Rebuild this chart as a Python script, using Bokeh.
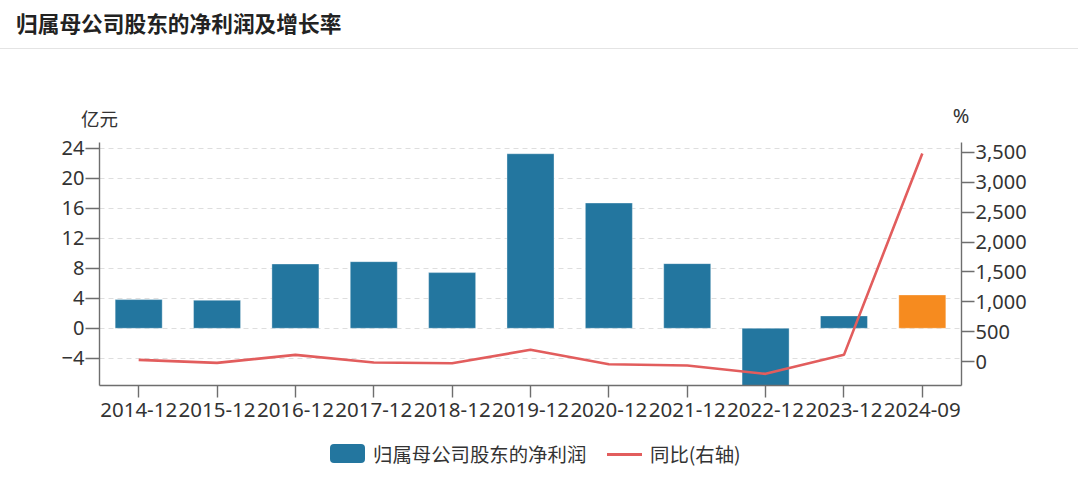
from bokeh.plotting import figure
from bokeh.models import (ColumnDataSource, FactorRange, Range1d, LinearAxis, FixedTicker,
                          NumeralTickFormatter, Div)
from bokeh.layouts import column
from bokeh.embed import file_html
from bokeh.resources import INLINE

# ---------------- data ----------------
categories = ["2014-12", "2015-12", "2016-12", "2017-12", "2018-12", "2019-12",
              "2020-12", "2021-12", "2022-12", "2023-12", "2024-09"]
net_profit = [3.83, 3.74, 8.58, 8.89, 7.43, 23.3, 16.72, 8.63, -7.64, 1.65, 4.45]   # 亿元
yoy_pct = [28, -22, 112, -17, -28, 196, -45, -67, -206, 112, 3483]                  # %
left_ticks = [-4, 0, 4, 8, 12, 16, 20, 24]
right_ticks = [0, 500, 1000, 1500, 2000, 2500, 3000, 3500]
title_text = "归属母公司股东的净利润及增长率"
bar_name = "归属母公司股东的净利润"
line_name = "同比(右轴)"
left_unit = "亿元"
right_unit = "%"

# ---------------- style ----------------
BLUE = "#23769f"
ORANGE = "#f68b1f"
RED = "#e25d5d"
AXIS = "#6e6e6e"
TXT = "#333333"
LATIN = "Noto Sans"
CJK = "Noto Sans CJK SC"
W = 1080

colors = [ORANGE if c.endswith("-09") else BLUE for c in categories]
src = ColumnDataSource(dict(x=categories, y=net_profit, c=colors, pct=yoy_pct))

p = figure(width=W, height=294, x_range=FactorRange(factors=categories, range_padding=0),
           y_range=Range1d(-7.64, 24.8), output_backend="svg", toolbar_location=None,
           min_border_left=99, min_border_right=119, min_border_top=11, min_border_bottom=40,
           margin=(0, 0, 0, 0))
p.outline_line_color = None
p.xgrid.grid_line_color = None
p.ygrid.ticker = FixedTicker(ticks=left_ticks)
p.ygrid.grid_line_color = "#dedede"
p.ygrid.grid_line_dash = "5 4"
p.ygrid.grid_line_width = 1.2

p.extra_y_ranges = {"pct": Range1d(-401, 3667)}

bars = p.vbar(x="x", top="y", bottom=0, width=0.6, source=src, fill_color="c",
              line_color="#ffffff", line_alpha=0.35, line_width=1)
line = p.line(x="x", y="pct", source=src, y_range_name="pct", line_color=RED, line_width=2.6)

ya = p.yaxis[0]
ya.ticker = FixedTicker(ticks=left_ticks)
xa = p.xaxis[0]

rax = LinearAxis(y_range_name="pct", ticker=FixedTicker(ticks=right_ticks),
                 formatter=NumeralTickFormatter(format="0,0"))
p.add_layout(rax, "right")

for ax in (ya, xa, rax):
    ax.axis_line_color = AXIS
    ax.axis_line_width = 1.4
    ax.major_tick_line_color = AXIS
    ax.major_tick_line_width = 1.4
    ax.major_tick_in = 0
    ax.minor_tick_line_color = None
    ax.major_label_text_font = LATIN
    ax.major_label_text_font_size = "20px"
    ax.major_label_text_color = TXT
ya.major_tick_out = 14
ya.major_label_standoff = 1
rax.major_tick_out = 13
rax.major_label_standoff = 1
xa.major_tick_out = 12
xa.major_label_standoff = 5
xa.major_label_text_font_size = "20.5px"
xa.major_label_orientation = "horizontal"

# ---------------- header (title, separator, axis units) ----------------
header_html = (
    '<div style="position:relative;width:%dpx;height:131px;font-family:\'Noto Sans CJK SC\';color:#333;">'
    '<div style="position:absolute;left:16px;top:8px;height:30px;line-height:30px;font-size:21.7px;'
    'font-weight:bold;color:#222;white-space:nowrap;">%s</div>'
    '<div style="position:absolute;left:0;top:48px;width:1078px;height:1px;background:#e4e4e4;"></div>'
    '<span style="position:absolute;left:99.4px;top:118px;transform:translate(-50%%,-50%%);'
    'font-size:18.5px;line-height:1;white-space:nowrap;">%s</span>'
    '<span style="position:absolute;left:961px;top:116px;transform:translate(-50%%,-50%%);'
    'font-family:\'Noto Sans\';font-size:20px;line-height:1;white-space:nowrap;">%s</span>'
    '</div>'
) % (W, title_text, left_unit, right_unit)
header = Div(text=header_html, width=W, height=131, margin=(0, 0, 0, 0))

# ---------------- legend ----------------
legend_html = (
    '<div style="position:relative;width:%dpx;height:76px;font-family:\'Noto Sans CJK SC\';'
    'font-size:19.4px;color:#333;">'
    '<div style="position:absolute;left:330px;top:19px;width:35px;height:19px;border-radius:4px;'
    'background:%s;"></div>'
    '<span style="position:absolute;left:373px;top:28.5px;transform:translateY(-50%%);line-height:1;'
    'white-space:nowrap;">%s</span>'
    '<div style="position:absolute;left:607px;top:27.5px;width:35px;height:3px;background:%s;"></div>'
    '<span style="position:absolute;left:650px;top:28.5px;transform:translateY(-50%%);line-height:1;'
    'white-space:nowrap;">%s</span>'
    '</div>'
) % (W, BLUE, bar_name, RED, line_name)
legend = Div(text=legend_html, width=W, height=76, margin=(0, 0, 0, 0))

layout = column(header, p, legend, spacing=0)

open("out.html", "w").write(file_html(layout, INLINE))
